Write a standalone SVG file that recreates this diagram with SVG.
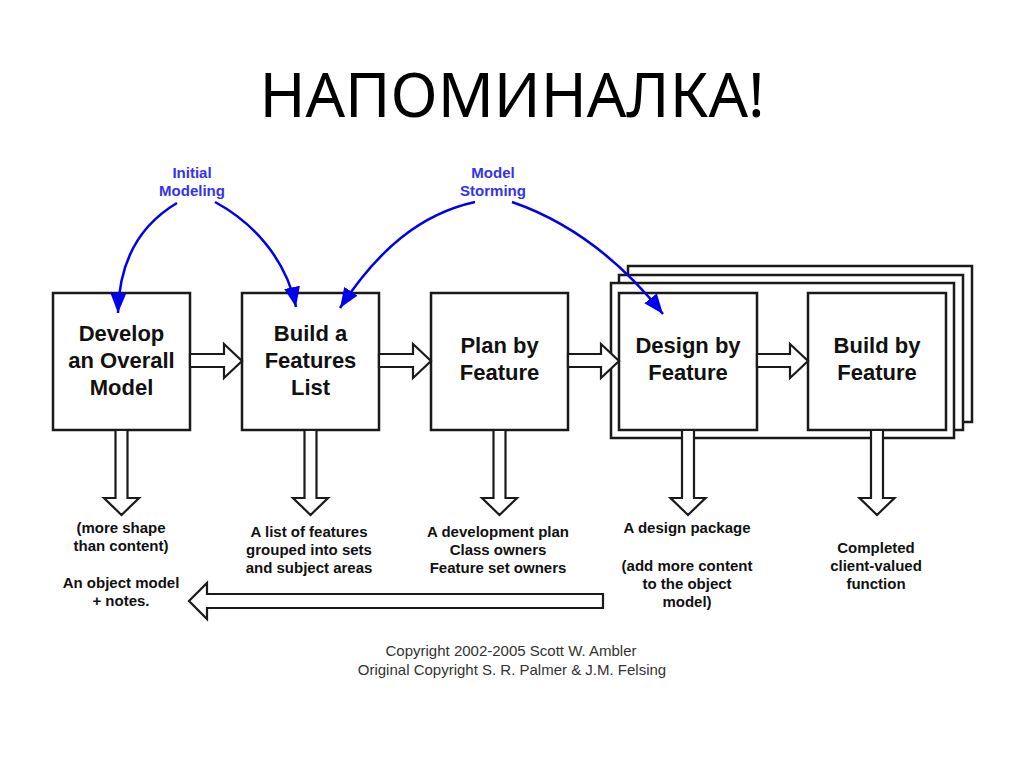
<svg xmlns="http://www.w3.org/2000/svg" width="1024" height="768" viewBox="0 0 1024 768">
<defs>
<style>
.box{fill:#fff;stroke:#1a1a1a;stroke-width:2.5}
.frame{fill:#fff;stroke:#1a1a1a;stroke-width:2.5}
.hollow{fill:#fff;stroke:#1a1a1a;stroke-width:2.2;stroke-linejoin:miter}
.blue{fill:none;stroke:#0000ee;stroke-width:2.5}
.bt{font-family:"Liberation Sans",Arial,sans-serif;font-weight:bold;font-size:22px;fill:#111;text-anchor:middle}
.ot{font-family:"Liberation Sans",Arial,sans-serif;font-weight:bold;font-size:15px;fill:#111;text-anchor:middle}
.lt{font-family:"Liberation Sans",Arial,sans-serif;font-weight:bold;font-size:15px;fill:#3333ee;text-anchor:middle}
.ct{font-family:"Liberation Sans",Arial,sans-serif;font-size:15px;fill:#333;text-anchor:middle}
.title{font-family:"Noto Sans","Open Sans",sans-serif;font-size:62px;fill:#000;text-anchor:middle}
</style>
<marker id="bh" viewBox="0 0 20 16" refX="20" refY="8" markerWidth="20" markerHeight="16" markerUnits="userSpaceOnUse" orient="auto">
<path d="M0,0 L20,8 L0,16 Z" fill="#0000ee"/>
</marker>
</defs>
<rect width="1024" height="768" fill="#fff"/>
<text class="title" x="512" y="117">НАПОМИНАЛКА!</text>

<g id="stack-frames">
<rect class="frame" x="628" y="266" width="344" height="156"/>
<rect class="frame" x="619" y="275" width="344" height="155"/>
<rect class="frame" x="611" y="283" width="343" height="155"/>
</g>

<g id="node-develop">
<rect class="box" x="53" y="293" width="137" height="137"/>
<text class="bt" x="121.5" y="341">Develop</text>
<text class="bt" x="121.5" y="368">an Overall</text>
<text class="bt" x="121.5" y="395">Model</text>
</g>
<g id="node-features">
<rect class="box" x="242" y="293" width="137" height="137"/>
<text class="bt" x="310.5" y="341">Build a</text>
<text class="bt" x="310.5" y="368">Features</text>
<text class="bt" x="310.5" y="395">List</text>
</g>
<g id="node-plan">
<rect class="box" x="431" y="293" width="137" height="137"/>
<text class="bt" x="499.5" y="353">Plan by</text>
<text class="bt" x="499.5" y="380">Feature</text>
</g>
<g id="node-design">
<rect class="box" x="619" y="293" width="138" height="137"/>
<text class="bt" x="688" y="353">Design by</text>
<text class="bt" x="688" y="380">Feature</text>
</g>
<g id="node-build">
<rect class="box" x="808" y="293" width="138" height="137"/>
<text class="bt" x="877" y="353">Build by</text>
<text class="bt" x="877" y="380">Feature</text>
</g>

<g id="connectors">
<path class="hollow" d="M190,354 H224 V344 L242,361 L224,378 V367 H190 Z"/>
<path class="hollow" d="M379,354 H413 V344 L431,361 L413,378 V367 H379 Z"/>
<path class="hollow" d="M568,354 H601 V344 L619,361 L601,378 V367 H568 Z"/>
<path class="hollow" d="M757,354 H790 V344 L808,361 L790,378 V367 H757 Z"/>

<path class="hollow" d="M115.5,430 V498 H104 L121.5,515 L139,498 H127.5 V430 Z"/>
<path class="hollow" d="M304.5,430 V498 H293 L310.5,515 L328,498 H316.5 V430 Z"/>
<path class="hollow" d="M493.5,430 V498 H482 L499.5,515 L517,498 H505.5 V430 Z"/>
<path class="hollow" d="M682,430 V498 H670.5 L688,515 L705.5,498 H694 V430 Z"/>
<path class="hollow" d="M871,430 V498 H859.5 L877,515 L894.5,498 H883 V430 Z"/>

<path class="hollow" d="M603,594 H207 V583 L189,601 L207,619 V608 H603 Z"/>

<path class="blue" marker-end="url(#bh)" d="M177,203 C145,222 119,255 118,313"/>
<path class="blue" marker-end="url(#bh)" d="M215,202 C252,222 286,258 296,307"/>
<path class="blue" marker-end="url(#bh)" d="M475,202 C420,214 378,250 340,308"/>
<path class="blue" marker-end="url(#bh)" d="M512,202 C570,222 620,260 663,314"/>
</g>

<g id="labels">
<text class="lt" x="192" y="178">Initial</text>
<text class="lt" x="192" y="196">Modeling</text>
<text class="lt" x="493" y="178">Model</text>
<text class="lt" x="493" y="196">Storming</text>

<text class="ot" x="121" y="533">(more shape</text>
<text class="ot" x="121" y="551">than content)</text>
<text class="ot" x="121" y="588">An object model</text>
<text class="ot" x="121" y="606">+ notes.</text>

<text class="ot" x="309" y="537">A list of features</text>
<text class="ot" x="309" y="555">grouped into sets</text>
<text class="ot" x="309" y="573">and subject areas</text>

<text class="ot" x="498" y="537">A development plan</text>
<text class="ot" x="498" y="555">Class owners</text>
<text class="ot" x="498" y="573">Feature set owners</text>

<text class="ot" x="687" y="533">A design package</text>
<text class="ot" x="687" y="571">(add more content</text>
<text class="ot" x="687" y="589">to the object</text>
<text class="ot" x="687" y="607">model)</text>

<text class="ot" x="876" y="553">Completed</text>
<text class="ot" x="876" y="571">client-valued</text>
<text class="ot" x="876" y="589">function</text>

<text class="ct" x="511" y="656">Copyright 2002-2005 Scott W. Ambler</text>
<text class="ct" x="512" y="675">Original Copyright S. R. Palmer &amp; J.M. Felsing</text>
</g>
</svg>
